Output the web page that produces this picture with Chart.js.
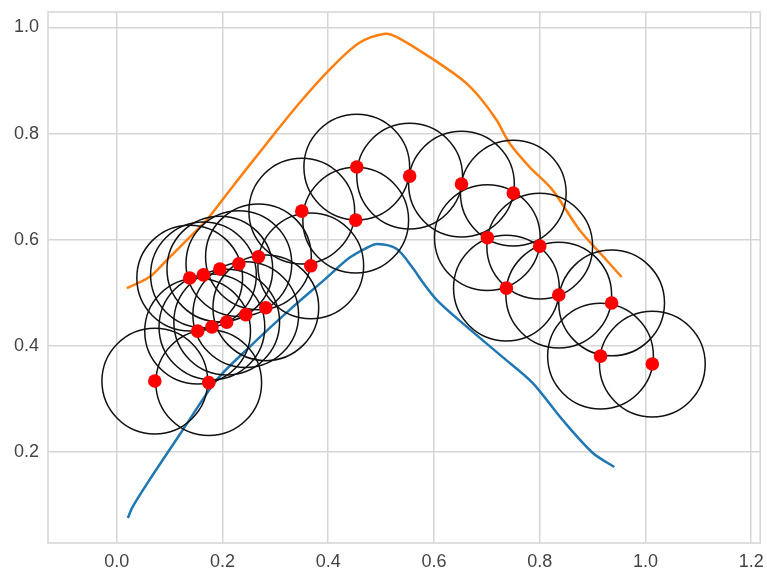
<!DOCTYPE html>
<html>
<head>
<meta charset="utf-8">
<script src="https://cdn.jsdelivr.net/npm/chart.js@4/dist/chart.umd.min.js"></script>
<style>
  html, body { margin: 0; padding: 0; background: #fff; }
  #wrap { width: 767px; height: 572px; }
</style>
</head>
<body>
<div id="wrap"><canvas id="chart"></canvas></div>
<script>
// scatter points (centres of the circles)
const pointX = [0.072, 0.174, 0.153, 0.180, 0.208, 0.244, 0.282, 0.138, 0.164, 0.195, 0.231, 0.268, 0.367,
                0.350, 0.452, 0.454, 0.554, 0.652, 0.750, 0.701, 0.800, 0.737, 0.836, 0.936, 0.915, 1.013];
const pointY = [0.334, 0.331, 0.428, 0.436, 0.445, 0.459, 0.472, 0.528, 0.534, 0.545, 0.555, 0.568, 0.551,
                0.654, 0.637, 0.737, 0.720, 0.705, 0.688, 0.604, 0.588, 0.509, 0.496, 0.481, 0.381, 0.366];
const circleRadius = 0.1; // in data units

// upper (orange) curve
const upperX = [0.019, 0.062, 0.095, 0.138, 0.170, 0.219, 0.284, 0.346, 0.408, 0.459, 0.507, 0.529,
                0.592, 0.654, 0.686, 0.718, 0.743, 0.781, 0.824, 0.875, 0.926, 0.955];
const upperY = [0.509, 0.530, 0.562, 0.605, 0.637, 0.700, 0.782, 0.858, 0.926, 0.971, 0.988, 0.982,
                0.944, 0.901, 0.869, 0.826, 0.782, 0.737, 0.694, 0.619, 0.562, 0.530];

// lower (blue) curve
const lowerX = [0.021, 0.030, 0.062, 0.125, 0.189, 0.251, 0.327, 0.393, 0.440, 0.473, 0.493, 0.529,
                0.560, 0.578, 0.605, 0.654, 0.730, 0.786, 0.843, 0.900, 0.941];
const lowerY = [0.076, 0.097, 0.148, 0.242, 0.336, 0.398, 0.468, 0.525, 0.566, 0.585, 0.592, 0.583,
                0.547, 0.521, 0.487, 0.443, 0.379, 0.331, 0.261, 0.199, 0.172];

const xTicks = [0.0, 0.2, 0.4, 0.6, 0.8, 1.0, 1.2];
const yTicks = [0.2, 0.4, 0.6, 0.8, 1.0];

const zip = (xs, ys) => xs.map((x, i) => ({ x: x, y: ys[i] }));

const gridColor = '#d5d5d5';
const tickColor = '#444';
const tickFont = { family: '"Liberation Sans", Arial, sans-serif', size: 18 };

// light grey frame around the plot area
const framePlugin = {
    id: 'frame',
    afterDraw(chart) {
        const a = chart.chartArea;
        const c = chart.ctx;
        c.save();
        c.strokeStyle = gridColor;
        c.lineWidth = 1.5;
        c.strokeRect(a.left, a.top, a.right - a.left, a.bottom - a.top);
        c.restore();
    }
};

const ctx = document.getElementById('chart');
new Chart(ctx, {
    type: 'scatter',
    data: {
        datasets: [
            {
                type: 'line',
                data: zip(upperX, upperY),
                borderColor: '#ff7f0e',
                borderWidth: 2.5,
                pointRadius: 0,
                tension: 0.3,
                fill: false,
                order: 4
            },
            {
                type: 'line',
                data: zip(lowerX, lowerY),
                borderColor: '#1f77b4',
                borderWidth: 2.5,
                pointRadius: 0,
                tension: 0.3,
                fill: false,
                order: 3
            },
            {
                // circles of fixed radius in data units
                data: zip(pointX, pointY),
                pointStyle: 'circle',
                backgroundColor: 'rgba(0,0,0,0)',
                borderColor: '#111',
                borderWidth: 1.5,
                pointRadius: function(context) {
                    const sx = context.chart.scales.x;
                    return Math.abs(sx.getPixelForValue(circleRadius) - sx.getPixelForValue(0));
                },
                pointHoverRadius: 0,
                order: 2
            },
            {
                data: zip(pointX, pointY),
                pointStyle: 'circle',
                backgroundColor: '#ff0000',
                borderColor: '#ff0000',
                borderWidth: 0,
                pointRadius: 6.8,
                order: 1
            }
        ]
    },
    options: {
        responsive: true,
        maintainAspectRatio: false,
        animation: false,
        events: [],
        layout: { padding: { left: 0, right: 6, top: 12, bottom: 0 } },
        plugins: {
            legend: { display: false },
            tooltip: { enabled: false }
        },
        scales: {
            x: {
                type: 'linear',
                min: -0.13,
                max: 1.217,
                afterBuildTicks: function(scale) {
                    scale.ticks = xTicks.map(v => ({ value: v }));
                },
                afterFit: function(scale) {
                    scale.height = 29;
                    scale.paddingLeft = 0;
                    scale.paddingRight = 0;
                },
                grid: { color: gridColor, lineWidth: 1.5, drawTicks: false },
                border: { display: false },
                ticks: {
                    color: tickColor,
                    font: tickFont,
                    padding: 8,
                    maxRotation: 0,
                    callback: v => v.toFixed(1)
                }
            },
            y: {
                type: 'linear',
                min: 0.029,
                max: 1.029,
                afterBuildTicks: function(scale) {
                    scale.ticks = yTicks.map(v => ({ value: v }));
                },
                afterFit: function(scale) {
                    scale.width = 48;
                    scale.paddingTop = 0;
                    scale.paddingBottom = 0;
                },
                grid: { color: gridColor, lineWidth: 1.5, drawTicks: false },
                border: { display: false },
                ticks: {
                    color: tickColor,
                    font: tickFont,
                    padding: 9,
                    callback: v => v.toFixed(1)
                }
            }
        }
    },
    plugins: [framePlugin]
});
</script>
</body>
</html>
